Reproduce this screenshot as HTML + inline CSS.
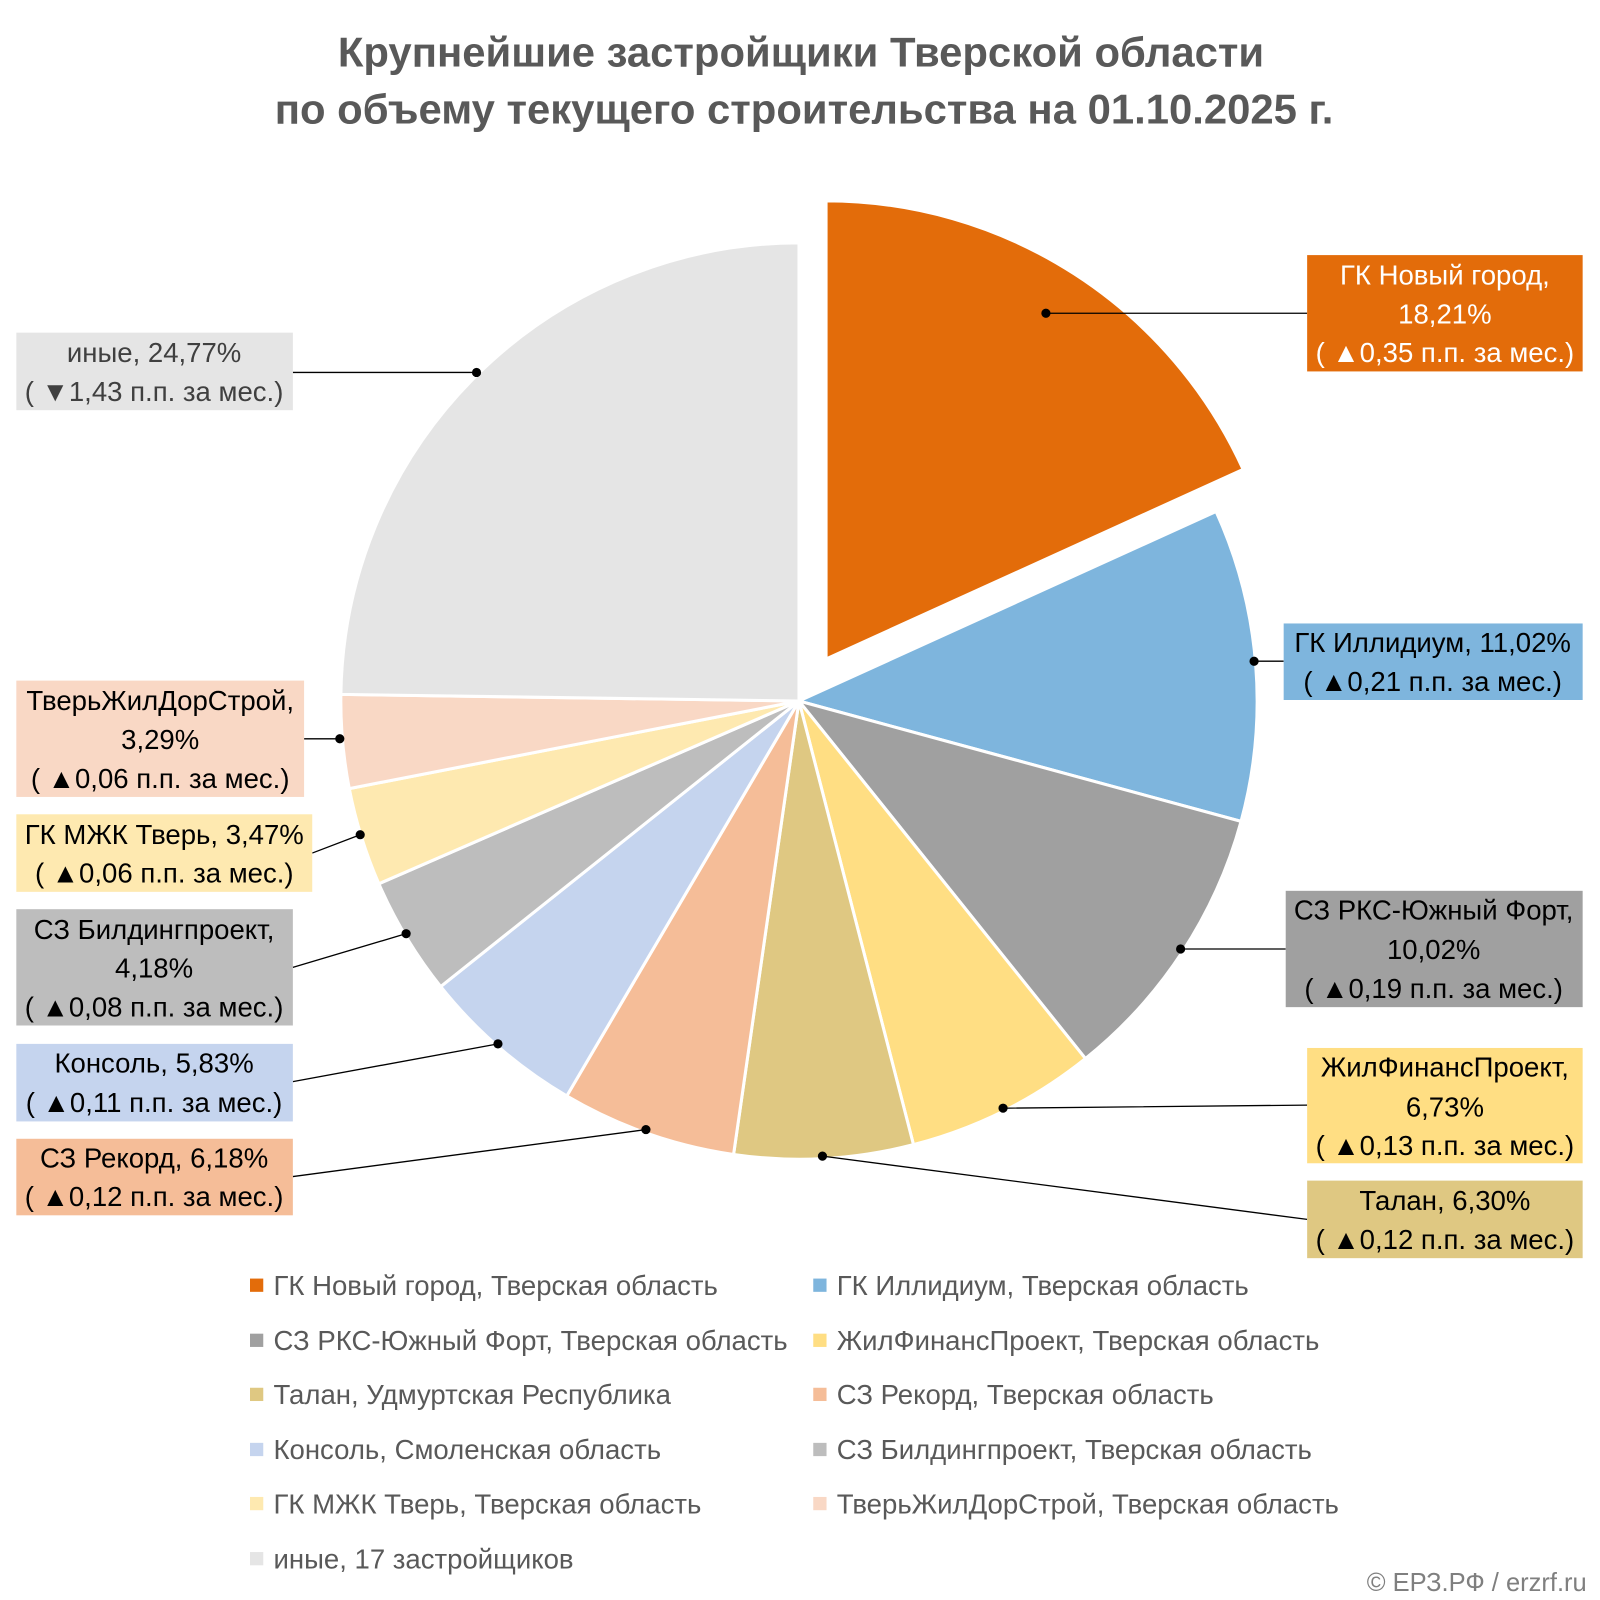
<!DOCTYPE html>
<html><head><meta charset="utf-8"><style>
body{margin:0;background:#fff;}
svg{display:block}
text{font-family:"Liberation Sans",sans-serif;}
</style></head><body>
<svg id="s" width="1600" height="1600" viewBox="0 0 1568 1568" xmlns="http://www.w3.org/2000/svg">
<text x="785" y="65" text-anchor="middle" font-size="41" font-weight="bold" fill="#595959">Крупнейшие застройщики Тверской области</text>
<text x="788" y="121" text-anchor="middle" font-size="41" font-weight="bold" fill="#595959">по объему текущего строительства на 01.10.2025 г.</text>
<g id="pie"></g>
<g stroke="#000" stroke-width="1.3" fill="none">
<path d="M1025 307H1281M467 365H287M1229 648H1258M1157 930H1260M983 1086L1281 1083M806 1133L1281 1195M633 1107L287 1153M488 1023L287 1060M398 915L287 948M353 818L306 836M333 724H298"/>
</g>
<g fill="#000">
<circle cx="1025" cy="307" r="4.5"/><circle cx="467" cy="365" r="4.5"/><circle cx="1229" cy="648" r="4.5"/><circle cx="1157" cy="930" r="4.5"/><circle cx="983" cy="1086" r="4.5"/><circle cx="806" cy="1133" r="4.5"/><circle cx="633" cy="1107" r="4.5"/><circle cx="488" cy="1023" r="4.5"/><circle cx="398" cy="915" r="4.5"/><circle cx="353" cy="818" r="4.5"/><circle cx="333" cy="724" r="4.5"/>
</g>
<g font-size="27" text-anchor="middle" fill="#404040">
<rect x="1281" y="250" width="270" height="114" fill="#E36C0A"/>
<g fill="#fff"><text x="1416" y="279">ГК Новый город,</text><text x="1416" y="317">18,21%</text><text x="1416" y="355">( ▲0,35 п.п. за мес.)</text></g>
<rect x="16" y="326" width="271" height="76" fill="#E5E5E5"/>
<text x="151" y="355">иные, 24,77%</text><text x="151" y="393">( ▼1,43 п.п. за мес.)</text>
<rect x="1258" y="611" width="293" height="75" fill="#7EB5DD"/>
<g fill="#000"><text x="1404" y="639">ГК Иллидиум, 11,02%</text><text x="1404" y="677">( ▲0,21 п.п. за мес.)</text></g>
<rect x="1260" y="873" width="291" height="114" fill="#A0A0A0"/>
<g fill="#000"><text x="1405" y="901">СЗ РКС-Южный Форт,</text><text x="1405" y="940">10,02%</text><text x="1405" y="978">( ▲0,19 п.п. за мес.)</text></g>
<rect x="1281" y="1027" width="270" height="113" fill="#FFDE83"/>
<g fill="#000"><text x="1416" y="1055">ЖилФинансПроект,</text><text x="1416" y="1094">6,73%</text><text x="1416" y="1132">( ▲0,13 п.п. за мес.)</text></g>
<rect x="1281" y="1157" width="270" height="76" fill="#DFC882"/>
<g fill="#000"><text x="1416" y="1186">Талан, 6,30%</text><text x="1416" y="1224">( ▲0,12 п.п. за мес.)</text></g>
<rect x="16" y="667" width="282" height="114" fill="#F9D8C5"/>
<g fill="#000"><text x="157" y="696">ТверьЖилДорСтрой,</text><text x="157" y="734">3,29%</text><text x="157" y="772">( ▲0,06 п.п. за мес.)</text></g>
<rect x="16" y="798" width="290" height="76" fill="#FEE9B0"/>
<g fill="#000"><text x="161" y="827">ГК МЖК Тверь, 3,47%</text><text x="161" y="865">( ▲0,06 п.п. за мес.)</text></g>
<rect x="16" y="891" width="271" height="114" fill="#BDBDBD"/>
<g fill="#000"><text x="151" y="920">СЗ Билдингпроект,</text><text x="151" y="958">4,18%</text><text x="151" y="996">( ▲0,08 п.п. за мес.)</text></g>
<rect x="16" y="1023" width="271" height="76" fill="#C5D4EE"/>
<g fill="#000"><text x="151" y="1051">Консоль, 5,83%</text><text x="151" y="1090">( ▲0,11 п.п. за мес.)</text></g>
<rect x="16" y="1116" width="271" height="75" fill="#F5BD98"/>
<g fill="#000"><text x="151" y="1144">СЗ Рекорд, 6,18%</text><text x="151" y="1182">( ▲0,12 п.п. за мес.)</text></g>
</g>
<g font-size="27" fill="#595959">
<rect x="245" y="1253" width="13" height="13" fill="#E36C0A"/><text x="268" y="1269">ГК Новый город, Тверская область</text>
<rect x="797" y="1253" width="13" height="13" fill="#7EB5DD"/><text x="820" y="1269">ГК Иллидиум, Тверская область</text>
<rect x="245" y="1307" width="13" height="13" fill="#A0A0A0"/><text x="268" y="1323">СЗ РКС-Южный Форт, Тверская область</text>
<rect x="797" y="1307" width="13" height="13" fill="#FFDE83"/><text x="820" y="1323">ЖилФинансПроект, Тверская область</text>
<rect x="245" y="1360" width="13" height="13" fill="#DFC882"/><text x="268" y="1376">Талан, Удмуртская Республика</text>
<rect x="797" y="1360" width="13" height="13" fill="#F5BD98"/><text x="820" y="1376">СЗ Рекорд, Тверская область</text>
<rect x="245" y="1414" width="13" height="13" fill="#C5D4EE"/><text x="268" y="1430">Консоль, Смоленская область</text>
<rect x="797" y="1414" width="13" height="13" fill="#BDBDBD"/><text x="820" y="1430">СЗ Билдингпроект, Тверская область</text>
<rect x="245" y="1467" width="13" height="13" fill="#FEE9B0"/><text x="268" y="1483">ГК МЖК Тверь, Тверская область</text>
<rect x="797" y="1467" width="13" height="13" fill="#F9D8C5"/><text x="820" y="1483">ТверьЖилДорСтрой, Тверская область</text>
<rect x="245" y="1521" width="13" height="13" fill="#E5E5E5"/><text x="268" y="1537">иные, 17 застройщиков</text>
<text x="1555" y="1559" text-anchor="end" font-size="25" fill="#7f7f7f">© ЕРЗ.РФ / erzrf.ru</text>
</g>
</svg>
<script>
var v=[18.21,11.02,10.02,6.73,6.30,6.18,5.83,4.18,3.47,3.29,24.77];
var c=["#E36C0A","#7EB5DD","#A0A0A0","#FFDE83","#DFC882","#F5BD98","#C5D4EE","#BDBDBD","#FEE9B0","#F9D8C5","#E5E5E5"];
var cx=783,cy=687,r=449,a=0,h="";
for(var i=0;i<v.length;i++){var a1=a+v[i]*3.6;var ox=0,oy=0;
if(i==0){var m=(a+a1)/2*Math.PI/180;ox=49*Math.sin(m);oy=-49*Math.cos(m);}
var x0=cx+ox+r*Math.sin(a*Math.PI/180),y0=cy+oy-r*Math.cos(a*Math.PI/180);
var x1=cx+ox+r*Math.sin(a1*Math.PI/180),y1=cy+oy-r*Math.cos(a1*Math.PI/180);
h+='<path d="M'+(cx+ox)+' '+(cy+oy)+'L'+x0+' '+y0+'A'+r+' '+r+' 0 '+(a1-a>180?1:0)+' 1 '+x1+' '+y1+'Z" fill="'+c[i]+'" stroke="#fff" stroke-width="3" stroke-linejoin="round"/>';
a=a1;}
document.getElementById("pie").innerHTML=h;
</script>
</body></html>
